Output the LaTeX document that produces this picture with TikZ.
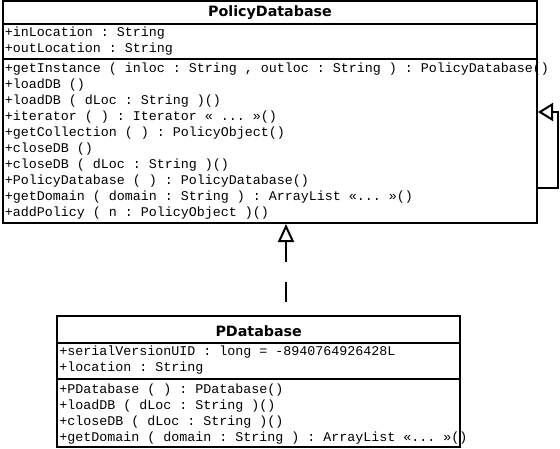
\documentclass[tikz,border=0pt]{standalone}
\usepackage{fontspec}
\setmonofont{Liberation Mono}
\newfontfamily\titlefont{DejaVu Sans}
\usetikzlibrary{arrows.meta,fit}
\begin{document}
\begin{tikzpicture}[x=0.75pt,y=-0.75pt,
  classbox/.style={draw,line width=1.5pt,inner sep=0pt},
  sepline/.style={line width=1.5pt},
  member/.style={anchor=base west,inner sep=0pt,font=\ttfamily\fontsize{10pt}{12pt}\selectfont},
  classtitle/.style={anchor=base,inner sep=0pt,font=\titlefont\bfseries\fontsize{10.7pt}{13pt}\selectfont},
  conn/.style={line width=1.5pt}]
\useasboundingbox (0,0) rectangle (560,449);

% PolicyDatabase
\node[classbox,fit={(3,1) (537,223)}] (pd) {};
\coordinate (pdsA) at (0,24);
\coordinate (pdsB) at (0,59.5);
\draw[sepline] (pd.west |- pdsA) -- (pd.east |- pdsA);
\draw[sepline] (pd.west |- pdsB) -- (pd.east |- pdsB);
\node[classtitle] (pdt) at (270,16.5) {PolicyDatabase};
\node[member] (pa1) at (4.5,36.7) {+inLocation : String};
\node[member] (pa2) at (4.5,52.6) {+outLocation : String};
\node[member] (pm1) at (4.5,73) {+getInstance ( inloc : String , outloc : String ) : PolicyDatabase()};
\node[member] (pm2) at (4.5,88.95) {+loadDB ()};
\node[member] (pm3) at (4.5,104.9) {+loadDB ( dLoc : String )()};
\node[member] (pm4) at (4.5,120.85) {+iterator ( ) : Iterator « ... »()};
\node[member] (pm5) at (4.5,136.8) {+getCollection ( ) : PolicyObject()};
\node[member] (pm6) at (4.5,152.75) {+closeDB ()};
\node[member] (pm7) at (4.5,168.7) {+closeDB ( dLoc : String )()};
\node[member] (pm8) at (4.5,184.65) {+PolicyDatabase ( ) : PolicyDatabase()};
\node[member] (pm9) at (4.5,200.6) {+getDomain ( domain : String ) : ArrayList «... »()};
\node[member] (pm10) at (4.5,216.55) {+addPolicy ( n : PolicyObject )()};

% PDatabase
\node[classbox,fit={(57.3,316) (460,447.3)}] (pdb) {};
\coordinate (pbsA) at (0,343.3);
\coordinate (pbsB) at (0,379.3);
\draw[sepline] (pdb.west |- pbsA) -- (pdb.east |- pbsA);
\draw[sepline] (pdb.west |- pbsB) -- (pdb.east |- pbsB);
\node[classtitle] (pbt) at (258.7,336.7) {PDatabase};
\node[member] (ba1) at (59,355.5) {+serialVersionUID : long = -8940764926428L};
\node[member] (ba2) at (59,371.5) {+location : String};
\node[member] (bm1) at (59,393.3) {+PDatabase ( ) : PDatabase()};
\node[member] (bm2) at (59,409.2) {+loadDB ( dLoc : String )()};
\node[member] (bm3) at (59,425.1) {+closeDB ( dLoc : String )()};
\node[member] (bm4) at (59,441) {+getDomain ( domain : String ) : ArrayList «... »()};

% generalization PDatabase -> PolicyDatabase (dashed)
\coordinate (gx) at (286,0);
\draw[conn,{Triangle[open,length=13.5pt,width=12pt]}-,dash pattern=on 15pt off 15pt]
  (pd.south -| gx) -- (pdb.north -| gx);

% self association
\coordinate (loopA) at (558,188);
\coordinate (loopB) at (558,112);
\draw[conn,-{Triangle[open,length=11.25pt,width=13.5pt]}]
  (pd.east |- loopA) -- (loopA) -- (loopB) -- (pd.east |- loopB);
\end{tikzpicture}
\end{document}
